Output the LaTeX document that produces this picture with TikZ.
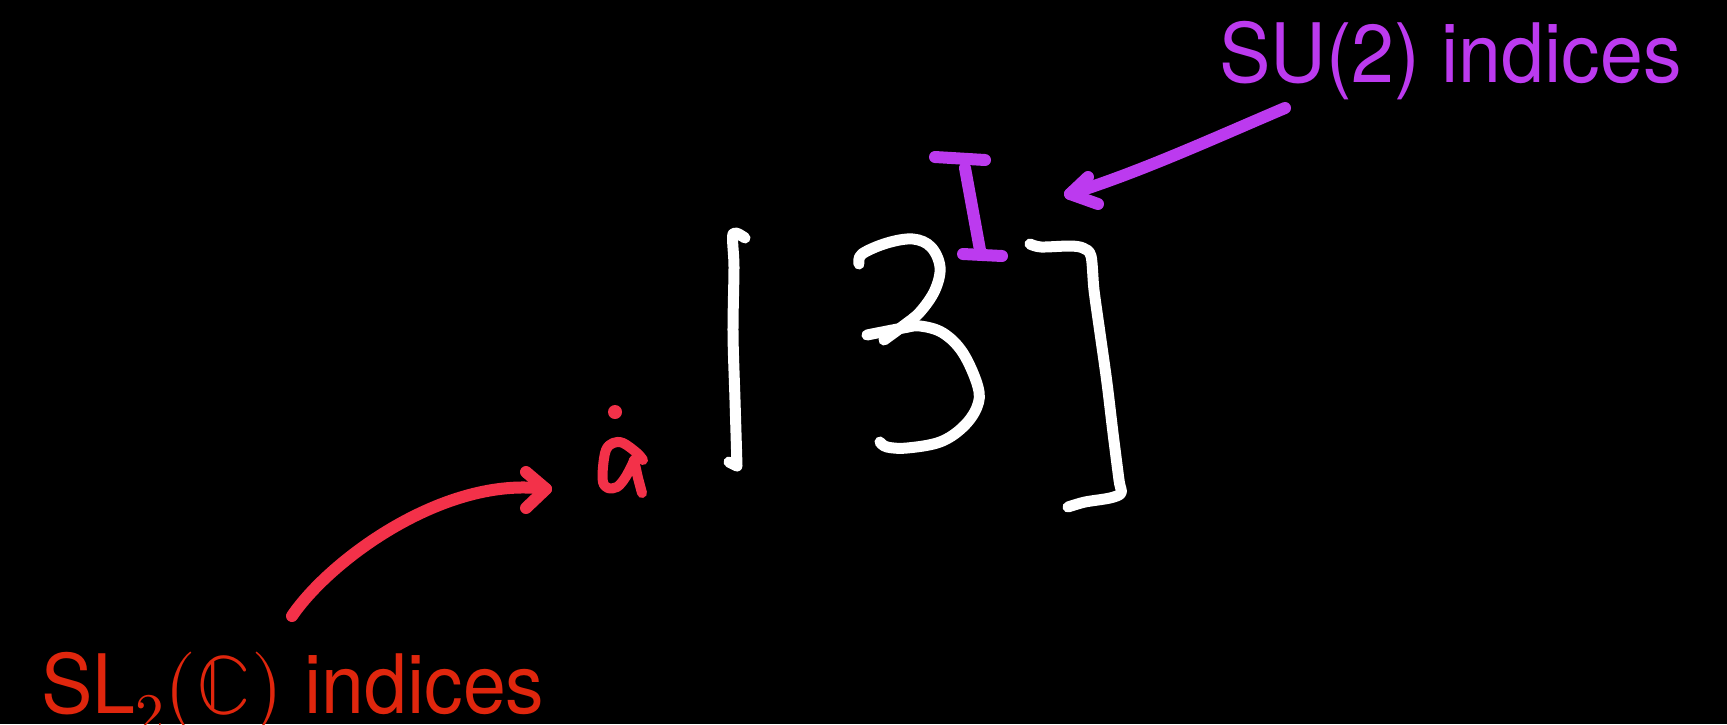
\documentclass[tikz,border=0pt]{standalone}
\usepackage{fontspec}
\usepackage{unicode-math}
\setmainfont{TeX Gyre Heros}[FakeStretch=0.94]
\usetikzlibrary{arrows.meta,positioning}
\definecolor{suPurple}{HTML}{BC3AEF}
\definecolor{slInk}{HTML}{F33149}
\definecolor{slText}{HTML}{E0260D}

\begin{document}
\begin{tikzpicture}[x=1pt, y=-1pt,
  pen/.style={line width=11pt, line cap=round, line join=round},
  chalk/.style={pen, white},
  suink/.style={pen, line width=12pt, suPurple},
  slink/.style={pen, line width=12pt, slInk},
  lbl/.style={inner sep=0pt, anchor=base west, font=\fontsize{82}{96}\selectfont}
]
\fill[black] (0,0) rectangle (1727,724);
\useasboundingbox (0,0) rectangle (1727,724);

% labels
\node[lbl, text=suPurple] (suLabel) at (1219,82) {SU(2) indices};
\node[lbl, text=slText] (slLabel) at (41,713) {SL$_2(\mathbb{C})$ indices};

% [ 3 ]
\draw[chalk] plot[smooth, tension=0.5] coordinates {(745,238) (733,234) (734,267) (733,333) (735,400) (737,466)} -- (729,462);
\draw[chalk] plot[smooth, tension=0.6] coordinates {(859,264) (862,254) (887,243) (913,239) (931,247) (940,267) (935,290) (920,312) (903,326) (884,340)};
\draw[chalk] plot[smooth, tension=0.6] coordinates {(867,335) (903,328) (920,326) (943,333) (963,353) (978,387) (977,407) (963,427) (940,442) (907,448) (887,447) (880,442)};
\draw[chalk] plot[smooth, tension=0.5] coordinates {(1030,244) (1041,247) (1070,246) (1083,248) (1091,256) (1094,290) (1100,333) (1107,383) (1113,433) (1119,480) (1121,493) (1110,498) (1085,502) (1068,507)};

% index I
\draw[suink] (935,157) -- (985,160);
\draw[suink] (965,168) -- (980,250);
\draw[suink] (963,254) -- (1002,256);

% dotted a
\fill[slInk] (615,412) circle (7);
\draw[slink, line width=10pt] plot[smooth, tension=0.6] coordinates {(643,460) (637,453) (623,443) (613,443) (606,450) (603,467) (603,482) (608,488) (617,487) (625,478) (632,465) (634,460)} -- (638,478) -- (642,493);

% arrows
\coordinate (suTail) at (1285,108);
\coordinate (suTip) at (1070,194);
\draw[suink] (suTail) .. controls (1210,140) and (1140,172) .. (suTip);
\draw[suink] (suTip) ++(18,-17) -- (suTip) -- ++(28,10);

\coordinate (slTail) at (292,616);
\coordinate (slTip) at (546,489);
\draw[slink] (slTail) .. controls (330,560) and (445,475) .. (slTip);
\draw[slink] (slTip) ++(-20,-17) -- (slTip) -- ++(-20,19);
\end{tikzpicture}
\end{document}
